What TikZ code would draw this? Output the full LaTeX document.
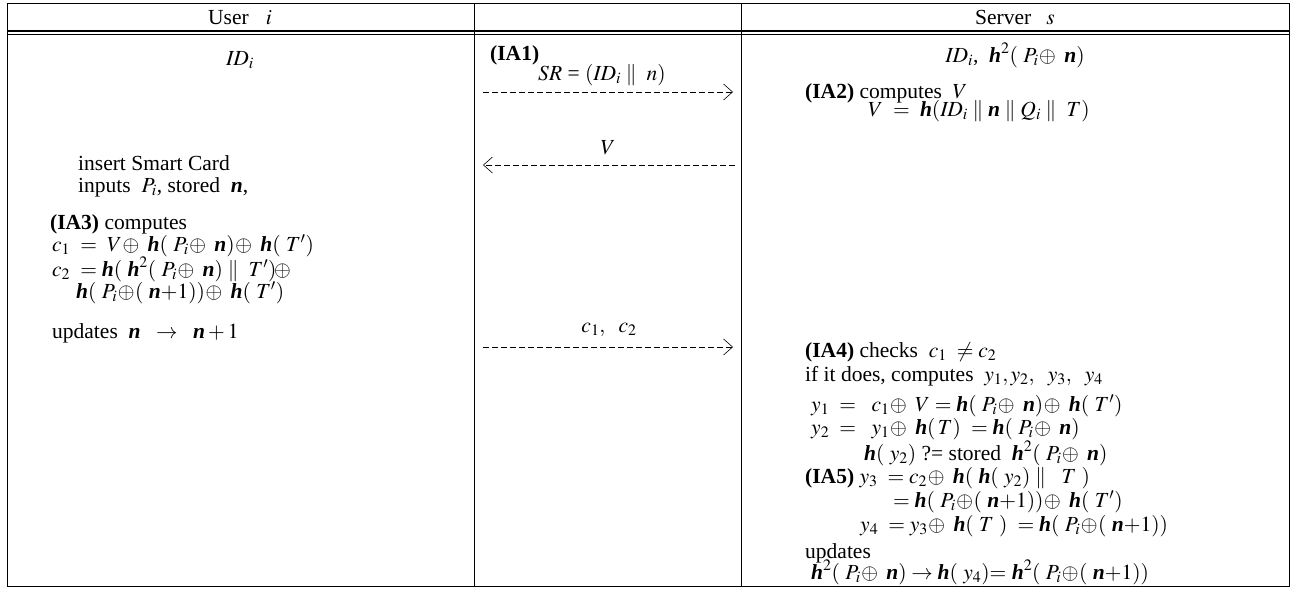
\documentclass[tikz,border=0pt]{standalone}
\usepackage{mathptmx}
\usepackage{fontspec}
\setmainfont{Liberation Serif}
\usetikzlibrary{arrows.meta}
\newcommand{\hh}{\textbf{\textit{h}}}
\newcommand{\nn}{\textbf{\textit{n}}}
\tikzset{
  txt/.style={anchor=west, inner sep=0pt, font=\fontsize{21.5}{23}\selectfont},
  ctxt/.style={anchor=center, inner sep=0pt, font=\fontsize{21.5}{23}\selectfont},
  frame/.style={line width=1pt},
  msg/.style={line width=0.6pt, dash pattern=on 6pt off 3pt, -{Straight Barb[length=9pt,width=16pt,line width=0.6pt]}}
}
\begin{document}
\begin{tikzpicture}[x=1pt,y=-1pt]
\useasboundingbox (0,0) rectangle (1291,589);
% table
\draw[frame] (7,3) rectangle (1289,586);
\draw[line width=1.2pt] (7,31) -- (1289,31);
\draw[line width=1.2pt] (7,34.5) -- (1289,34.5);
\draw[line width=0.8pt] (474,3) -- (474,586);
\draw[line width=0.8pt] (741,3) -- (741,586);
% headers
\node[ctxt] (hu) at (240,18) {User\hspace{0.8em}$i$};
\node[ctxt] (hs) at (1015,18) {Server\hspace{0.7em}$s$};
% left column
\node[ctxt] (uid) at (240,60) {$\mathit{ID}_i$};
\node[txt] (l1) at (78,163) {insert Smart Card};
\node[txt] (l2) at (78,187) {inputs\ \ $P_i$, stored\ \ $\nn$,};
\node[txt] (l3) at (50,224) {\textbf{(IA3)} computes};
\node[txt] (l4) at (52,246) {$c_1\ =\ V\!\oplus\ \hh(\ P_i\!\oplus\ \nn)\!\oplus\ \hh(\ T')$};
\node[txt] (l5) at (52,269) {$c_2\ = \hh(\ \hh^2(\ P_i\!\oplus\ \nn)\parallel\ T')\!\oplus$};
\node[txt] (l6) at (76,293) {$\hh(\ P_i\!\oplus\!(\ \nn{+}1))\!\oplus\ \hh(\ T')$};
\node[txt] (l7) at (52,333) {updates\ \ $\nn\ \ \rightarrow\ \ \nn+1$};
% middle column
\node[txt] (ia1) at (490,55) {\textbf{(IA1)}};
\node[ctxt] (sr) at (602,75) {$SR$ = $(\mathit{ID}_i\parallel\ n)$};
\coordinate (m1a) at (483,92);
\coordinate (m1b) at (733,92);
\draw[msg] (m1a) -- (m1b);
\node[ctxt] (vl) at (608,148) {$V$};
\coordinate (m2a) at (735,165);
\coordinate (m2b) at (483,165);
\draw[msg] (m2a) -- (m2b);
\node[ctxt] (cl) at (609,330) {$c_1,\ \ c_2$};
\coordinate (m3a) at (483,347);
\coordinate (m3b) at (733,347);
\draw[msg] (m3a) -- (m3b);
% right column
\node[ctxt] (sid) at (1015,55) {$\mathit{ID}_i$,\ \ $\hh^2(\ P_i\!\oplus\ \nn)$};
\node[txt] (r1) at (805,93) {\textbf{(IA2)} computes\ \ $V$};
\node[txt] (r2) at (868,111) {$V\ =\ \hh(\mathit{ID}_i\parallel \nn\parallel Q_i\parallel\ T)$};
\node[txt] (r3) at (805,352) {\textbf{(IA4)} checks\ \ $c_1\ \neq c_2$};
\node[txt] (r4) at (805,376) {if\ it\ does, computes\ \ $y_1, y_2,\ \ y_3,\ \ y_4$};
\node[txt] (r5) at (811,406) {$y_1\ =\ \ c_1\!\oplus\ V = \hh(\ P_i\!\oplus\ \nn)\!\oplus\ \hh(\ T')$};
\node[txt] (r6) at (811,429) {$y_2\ =\ \ y_1\!\oplus\ \hh(\,T)\ = \hh(\ P_i\!\oplus\ \nn)$};
\node[txt] (r7) at (864,453) {$\hh(\ y_2)$ ?=\ stored\ \ $\hh^2(\ P_i\!\oplus\ \nn)$};
\node[txt] (r8) at (805,478) {\textbf{(IA5)} $y_3\ = c_2\!\oplus\ \hh(\ \hh(\ y_2)\parallel\ \ T\ )$};
\node[txt] (r9) at (893,502) {$= \hh(\ P_i\!\oplus\!(\ \nn{+}1))\!\oplus\ \hh(\ T')$};
\node[txt] (r10) at (860,526) {$y_4\ = y_3\!\oplus\ \hh(\ T\ )\ = \hh(\ P_i\!\oplus\!(\ \nn{+}1))$};
\node[txt] (r11) at (805,553) {updates};
\node[txt] (r12) at (811,572) {$\hh^2(\ P_i\!\oplus\ \nn)\rightarrow \hh(\ y_4){=}\ \hh^2(\ P_i\!\oplus\!(\ \nn{+}1))$};
\end{tikzpicture}
\end{document}
